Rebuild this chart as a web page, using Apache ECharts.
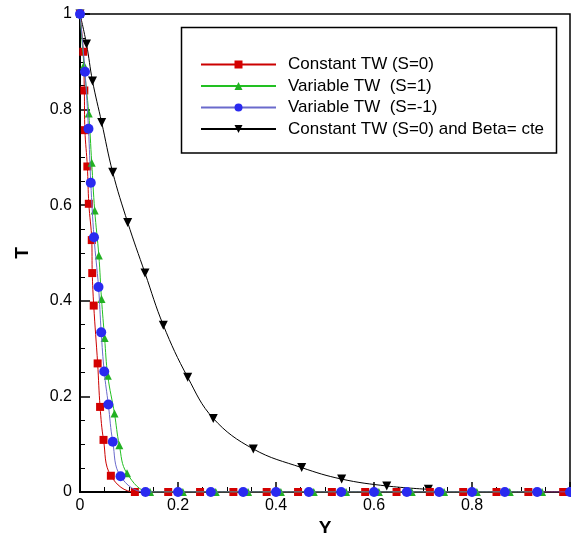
<!DOCTYPE html>
<html>
<head>
<meta charset="utf-8">
<style>
  html, body { margin: 0; padding: 0; background: #fff; }
  #chart { width: 571px; height: 533px; }
</style>
<script src="https://cdn.jsdelivr.net/npm/echarts@6/dist/echarts.min.js"></script>
</head>
<body>
<div id="chart"></div>
<script>
// Temperature profiles T versus Y for the four wall cases
const seriesNames = [
  'Constant TW (S=0)',
  'Variable TW  (S=1)',
  'Variable TW  (S=-1)',
  'Constant TW (S=0) and Beta= cte'
];

const constY = [0, 0.0067, 0.0088, 0.010, 0.015, 0.018, 0.024, 0.025, 0.028, 0.036, 0.041, 0.048, 0.063, 0.112,
  0.180, 0.245, 0.313, 0.381, 0.445, 0.514, 0.582, 0.646, 0.714, 0.782, 0.850, 0.915, 0.986];
const constT = [1, 0.921, 0.840, 0.757, 0.681, 0.603, 0.527, 0.458, 0.390, 0.269, 0.178, 0.109, 0.034, 0,
  0, 0, 0, 0, 0, 0, 0, 0, 0, 0, 0, 0, 0];

const varPosY = [0, 0.0082, 0.0178, 0.0239, 0.030, 0.0384, 0.0439, 0.0502, 0.0567, 0.0704, 0.0802, 0.0959, 0.143,
  0.210, 0.277, 0.343, 0.410, 0.477, 0.543, 0.610, 0.677, 0.743, 0.810, 0.877, 0.943];
const varPosT = [1, 0.893, 0.792, 0.689, 0.589, 0.495, 0.404, 0.322, 0.243, 0.164, 0.098, 0.039, 0,
  0, 0, 0, 0, 0, 0, 0, 0, 0, 0, 0, 0];

const varNegY = [0, 0.0102, 0.0173, 0.022, 0.0286, 0.0378, 0.0433, 0.0494, 0.0578, 0.0669, 0.0827, 0.1337,
  0.200, 0.267, 0.333, 0.400, 0.467, 0.533, 0.600, 0.667, 0.733, 0.800, 0.867, 0.933, 1.000];
const varNegT = [1, 0.879, 0.760, 0.647, 0.533, 0.429, 0.334, 0.252, 0.183, 0.105, 0.033, 0,
  0, 0, 0, 0, 0, 0, 0, 0, 0, 0, 0, 0, 0];

const betaY = [0, 0.0133, 0.0255, 0.0443, 0.0667, 0.0973, 0.1327, 0.170, 0.2198, 0.272, 0.3537, 0.4524, 0.534, 0.626, 0.711];
const betaT = [1, 0.937, 0.860, 0.773, 0.669, 0.564, 0.458, 0.349, 0.240, 0.154, 0.090, 0.051, 0.027, 0.0126, 0.0056];

const FONT = "'Liberation Sans', Arial, sans-serif";

function pairs(xs, ys) {
  return xs.map((x, i) => [x, ys[i]]);
}

const chart = echarts.init(document.getElementById('chart'), null, { renderer: 'canvas' });

const axisCommon = {
  type: 'value',
  min: 0,
  max: 1,
  interval: 0.2,
  axisLine: { show: true, onZero: false, lineStyle: { color: '#000', width: 2 } },
  axisTick: { show: true, inside: true, length: 10, lineStyle: { color: '#000', width: 1.5 } },
  minorTick: { show: true, splitNumber: 4, length: 5, lineStyle: { color: '#000', width: 1 } },
  splitLine: { show: false },
  axisLabel: { color: '#000', fontFamily: FONT, fontSize: 16 },
  nameLocation: 'middle',
  nameTextStyle: { color: '#000', fontFamily: FONT, fontSize: 19, fontWeight: 'bold' }
};

chart.setOption({
  animation: false,
  backgroundColor: '#fff',
  grid: {
    left: 80, top: 14, right: 1, bottom: 41,
    outerBoundsMode: 'none',
    containLabel: false,
    show: true, borderColor: '#000', borderWidth: 1.5, backgroundColor: 'transparent'
  },
  xAxis: Object.assign({}, axisCommon, {
    name: 'Y',
    nameGap: 22,
    axisLabel: Object.assign({}, axisCommon.axisLabel, {
      margin: 6,
      formatter: v => (v >= 1 ? '' : String(v))
    })
  }),
  yAxis: Object.assign({}, axisCommon, {
    name: 'T',
    nameGap: 48,
    nameRotate: 90,
    axisLabel: Object.assign({}, axisCommon.axisLabel, { margin: 8 })
  }),
  legend: {
    orient: 'vertical',
    left: 200,
    top: 56,
    padding: 0,
    itemWidth: 75,
    itemHeight: 10,
    itemGap: 4.5,
    textStyle: { color: '#000', fontFamily: FONT, fontSize: 17, lineHeight: 16, padding: [0, 0, 0, 7] },
    data: seriesNames
  },
  graphic: [{
    type: 'rect',
    z: 10,
    shape: { x: 181.5, y: 27.5, width: 375, height: 125.5 },
    style: { fill: 'transparent', stroke: '#000', lineWidth: 1.5 }
  }],
  series: [
    {
      name: seriesNames[3],
      type: 'line',
      data: pairs(betaY, betaT),
      smooth: 0.4,
      symbol: 'triangle',
      symbolRotate: 180,
      symbolSize: 9,
      lineStyle: { color: '#000', width: 1 },
      itemStyle: { color: '#000' },
      z: 2
    },
    {
      name: seriesNames[0],
      type: 'line',
      data: pairs(constY, constT),
      smooth: 0.4,
      symbol: 'rect',
      symbolSize: 8,
      lineStyle: { color: '#cc0000', width: 1 },
      itemStyle: { color: '#d40000' },
      z: 3
    },
    {
      name: seriesNames[1],
      type: 'line',
      data: pairs(varPosY, varPosT),
      smooth: 0.4,
      symbol: 'triangle',
      symbolSize: 8,
      lineStyle: { color: '#22c022', width: 1 },
      itemStyle: { color: '#22b022' },
      z: 4
    },
    {
      name: seriesNames[2],
      type: 'line',
      data: pairs(varNegY, varNegT),
      smooth: 0.4,
      symbol: 'circle',
      symbolSize: 10,
      lineStyle: { color: '#6a6acc', width: 1 },
      itemStyle: { color: '#2a2af0' },
      z: 5
    }
  ]
});
</script>
</body>
</html>
